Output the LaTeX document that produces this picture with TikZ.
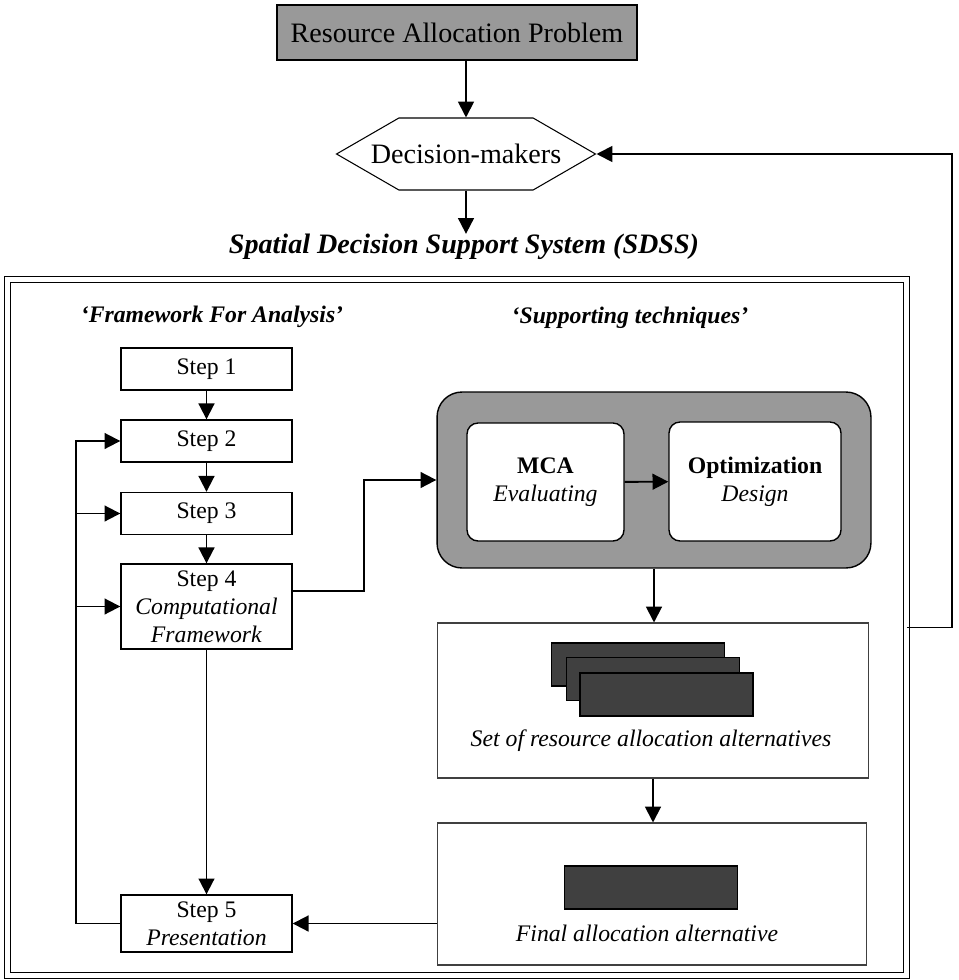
\documentclass[tikz,border=0pt]{standalone}
\usepackage{fontspec}
\setmainfont{Liberation Serif}
\usetikzlibrary{arrows.meta,shapes.symbols}

\begin{document}
\begin{tikzpicture}[x=0.02cm, y=-0.02cm,
    txt/.style={font=\fontsize{13.5}{16}\selectfont},
    big/.style={font=\fontsize{16}{19}\selectfont},
    stepbox/.style={rectangle, draw=black, line width=0.8pt, fill=white,
                    minimum width=3.42cm, minimum height=0.84cm, inner sep=0pt,
                    align=center, txt},
    panel/.style={rectangle, draw=black!75, line width=0.6pt, fill=white, inner sep=0pt},
    method/.style={rectangle, rounded corners=0.22cm, draw=black, line width=0.8pt,
                   fill=white, align=center, txt, inner sep=0pt},
    altbox/.style={rectangle, draw=black, line width=0.8pt, fill=black!75,
                   minimum width=3.46cm, minimum height=0.86cm},
    header/.style={font=\fontsize{13.5}{16}\selectfont\bfseries\itshape, inner sep=0pt},
    flow/.style={-{Triangle[length=9pt,width=9pt]}, line width=1.1pt}
]
\useasboundingbox (0,0) rectangle (959,980);

% Problem and decision-makers
\node[rectangle, draw, line width=1pt, fill=black!40, minimum width=7.2cm,
      minimum height=1.1cm, big] (prob) at (457,32.5) {Resource Allocation Problem};
\node[signal, signal to=east and west, signal pointer angle=60, draw, line width=0.6pt,
      inner xsep=-16pt, minimum height=1.44cm, big] (dm) at (466,154) {Decision-makers};
\node[font=\fontsize{16}{19}\selectfont\bfseries\itshape, inner sep=0pt] (sdss) at (464,247)
    {Spatial Decision Support System (SDSS)};

\draw[flow] (dm.north |- prob.south) -- (dm.north);
\draw[flow] (dm.south) -- (dm.south |- sdss.north);

% SDSS frame and feedback
\node[draw, double, double distance=2.4pt, line width=0.6pt, minimum width=17.98cm,
      minimum height=13.92cm] (frame) at (457,627.5) {};
\draw[flow] (frame.east) -- ++(45,0) |- (dm.east);

\node[header] (fwa) at (212,317) {`Framework For Analysis'};
\node[header] (sup) at (630,318) {`Supporting techniques'};

% Framework steps
\node[stepbox] (s1) at (206.5,369) {Step 1};
\node[stepbox] (s2) at (206.5,441) {Step 2};
\node[stepbox] (s3) at (206.5,513.5) {Step 3};
\node[stepbox, minimum height=1.7cm] (s4) at (206.5,606.5)
    {Step 4\\\textit{Computational}\\\textit{Framework}};
\node[stepbox, minimum height=1.14cm] (s5) at (206.5,923.5) {Step 5\\\textit{Presentation}};

\draw[flow] (s1) -- (s2);
\draw[flow] (s2) -- (s3);
\draw[flow] (s3) -- (s4);
\draw[flow] (s4) -- (s5);
\draw[flow] (s5.west) -- ++(-44,0) coordinate (back) |- (s2.west);
\foreach \s in {s3,s4} {
    \draw[flow] (back |- \s.west) -- (\s.west);
}

% Supporting techniques
\node[rectangle, rounded corners=0.5cm, draw, line width=0.8pt, fill=black!40,
      minimum width=8.68cm, minimum height=3.52cm] (tech) at (654,480) {};
\node[method, minimum width=3.14cm, minimum height=2.36cm] (mca) at (545.5,482)
    {\textbf{MCA}\\\textit{Evaluating}};
\node[method, minimum width=3.44cm, minimum height=2.38cm] (opt) at (755,481.5)
    {\textbf{Optimization}\\\textit{Design}};
\draw[flow] (mca) -- (opt);
\draw[flow] (s4.10) -- ++(71,0) |- (tech.west);

% Alternatives
\node[panel, minimum width=8.64cm, minimum height=3.1cm] (set) at (653,700.5) {};
\node[altbox] (alt1) at (638,664.5) {};
\node[altbox] (alt2) at (653,679) {};
\node[altbox] (alt3) at (666.5,694.5) {};
\node[txt, inner sep=0pt] (settxt) at (651,741) {\itshape Set of resource allocation alternatives};
\draw[flow] (tech.south) -- (tech.south |- set.north);

\node[panel, minimum width=8.6cm, minimum height=2.84cm] (final) at (652,894) {};
\node[altbox] (best) at (651,887.5) {};
\node[txt, inner sep=0pt] (fintxt) at (647,933) {\itshape Final allocation alternative};
\draw[flow] (set.south) -- (set.south |- final.north);
\draw[flow] (final.west |- s5.east) -- (s5.east);

\end{tikzpicture}
\end{document}
